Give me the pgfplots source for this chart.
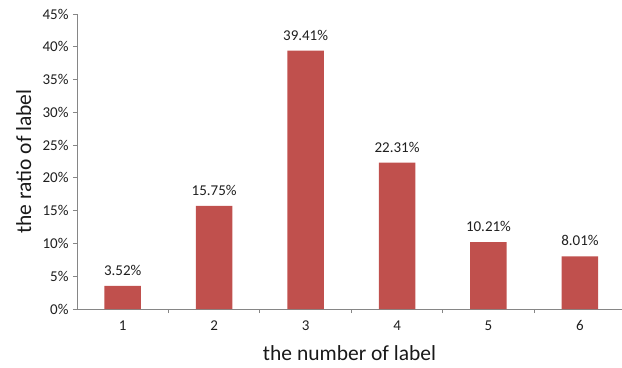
\documentclass[border=0pt]{standalone}
\usepackage{pgfplots}
\pgfplotsset{compat=1.18}
\usepackage{fontspec}
\setmainfont{Carlito}
\definecolor{barred}{RGB}{192,80,77}
\definecolor{axgray}{RGB}{134,134,134}
\begin{document}
\begin{tikzpicture}
\begin{axis}[name=ax,
  scale only axis, width=545bp, height=295bp,
  at={(0,0)}, anchor=south west,
  xmin=0.5, xmax=6.46, ymin=0, ymax=45,
  axis x line*=bottom, axis y line*=left,
  axis line style={axgray, line width=1pt, -},
  ytick={0,5,...,45},
  yticklabel={\pgfmathprintnumber{\tick}\%},
  xtick={1,...,6},
  minor xtick={1.5,2.5,3.5,4.5,5.5},
  major x tick style={draw=none},
  minor x tick style={axgray, line width=1pt},
  y tick style={axgray, line width=1pt},
  tick align=outside,
  major tick length=4bp, minor tick length=4bp,
  tick label style={font=\fontsize{15bp}{18bp}\selectfont, text=black!88},
  xticklabel style={yshift=-4bp},
  yticklabel style={xshift=-1bp},
  /pgf/number format/assume math mode=true,
  xlabel={the number of label}, ylabel={the ratio of label},
  label style={font=\fontsize{21.5bp}{26bp}\selectfont, text=black!90},
  xlabel style={at={(axis description cs:0.5,-0.1729)}, anchor=base},
  ylabel style={at={(axis description cs:-0.0844,0.5)}, anchor=base},
  ybar, bar width=36.5bp,
  nodes near coords,
  point meta=explicit symbolic,
  every node near coord/.append style={font=\fontsize{15bp}{18bp}\selectfont, text=black!88, yshift=7bp},
  clip=false,
]
\addplot[fill=barred, draw=none] coordinates {
  (1,3.52) [3.52\%]
  (2,15.75) [15.75\%]
  (3,39.41) [39.41\%]
  (4,22.31) [22.31\%]
  (5,10.21) [10.21\%]
  (6,8.01) [8.01\%]
};
\end{axis}
\pgfresetboundingbox
\path (-77bp,-59bp) rectangle (545bp,309bp);
\end{tikzpicture}
\end{document}
